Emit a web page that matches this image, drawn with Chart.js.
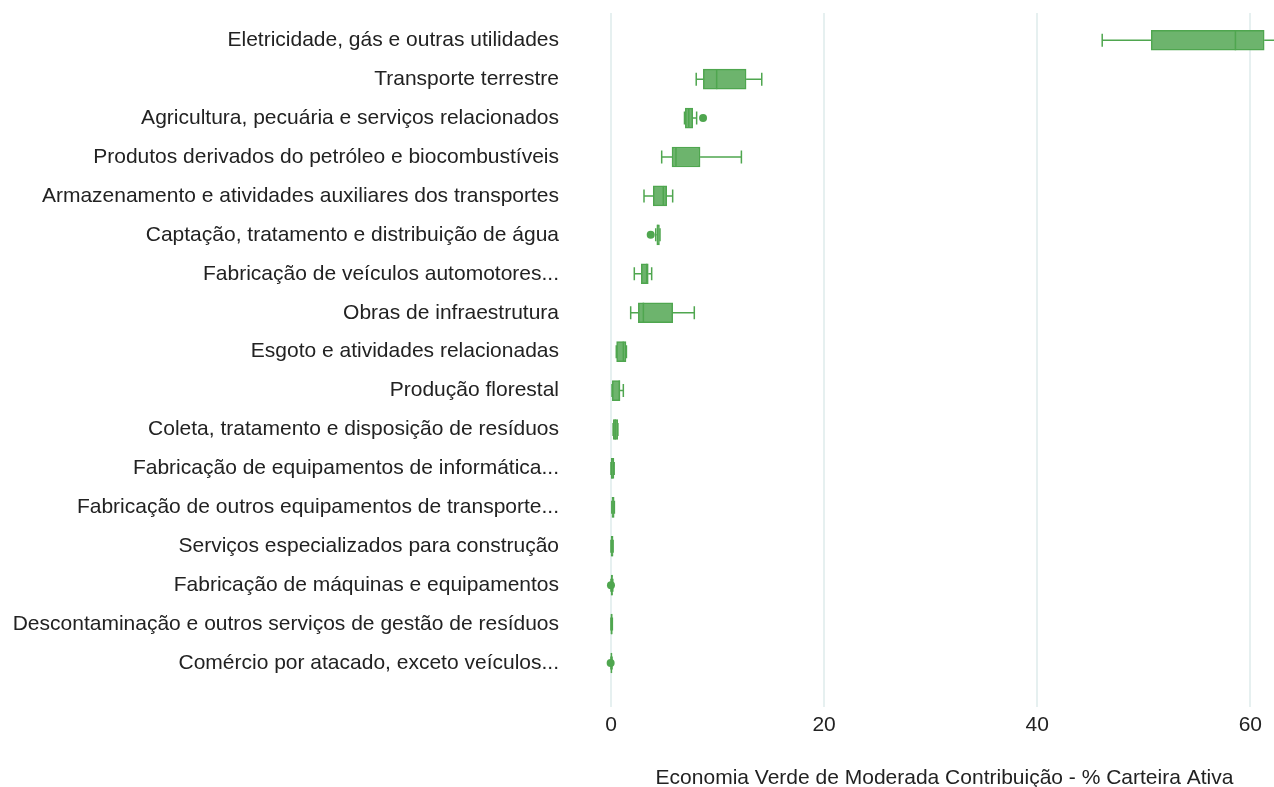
<!DOCTYPE html>
<html>
<head>
<meta charset="utf-8">
<script src="https://cdn.jsdelivr.net/npm/chart.js@4/dist/chart.umd.min.js"></script>
<style>
    html, body { margin: 0; padding: 0; background: #fff; overflow: hidden; }
    #wrap { width: 1274px; height: 787px; overflow: hidden; }
</style>
</head>
<body>
<div id="wrap"><canvas id="boxChart" width="1310" height="787"></canvas></div>
<script>
const categories = [
    'Eletricidade, gás e outras utilidades',
    'Transporte terrestre',
    'Agricultura, pecuária e serviços relacionados',
    'Produtos derivados do petróleo e biocombustíveis',
    'Armazenamento e atividades auxiliares dos transportes',
    'Captação, tratamento e distribuição de água',
    'Fabricação de veículos automotores...',
    'Obras de infraestrutura',
    'Esgoto e atividades relacionadas',
    'Produção florestal',
    'Coleta, tratamento e disposição de resíduos',
    'Fabricação de equipamentos de informática...',
    'Fabricação de outros equipamentos de transporte...',
    'Serviços especializados para construção',
    'Fabricação de máquinas e equipamentos',
    'Descontaminação e outros serviços de gestão de resíduos',
    'Comércio por atacado, exceto veículos...',
];

// box statistics per sector (% carteira ativa)
const whiskerLow  = [46.1, 8.0, 6.9, 4.76, 3.1, 4.2, 2.19, 1.85, 0.5, 0.1, 0.2, 0.0, 0.08, 0.0, 0.0, 0.0, 0.0];
const quartile1   = [50.7, 8.67, 6.98, 5.73, 3.97, 4.3, 2.85, 2.57, 0.53, 0.13, 0.22, 0.02, 0.09, 0.01, 0.02, 0.01, 0.02];
const medians     = [58.6, 9.92, 7.3, 6.1, 4.91, 4.4, 3.35, 3.04, 1.16, 0.78, 0.4, 0.1, 0.2, 0.1, 0.07, 0.05, 0.04];
const quartile3   = [61.3, 12.68, 7.67, 8.36, 5.23, 4.55, 3.5, 5.79, 1.41, 0.85, 0.63, 0.28, 0.3, 0.2, 0.15, 0.12, 0.08];
const whiskerHigh = [63.0, 14.15, 8.04, 12.24, 5.79, 4.6, 3.82, 7.82, 1.45, 1.16, 0.65, 0.3, 0.32, 0.2, 0.17, 0.13, 0.1];
const outliers    = [[], [], [8.64], [], [], [3.73], [], [], [], [], [], [], [], [], [0.0], [], [-0.03]];

const xTicks = [0, 20, 40, 60];

const LINE_GREEN = '#4fa64f';
const FILL_GREEN = '#6db46d';
const TEXT_COLOR = '#222222';
const FONT = '"Liberation Sans", Arial, Helvetica, sans-serif';

// whiskers, medians and outlier points on top of the floating bars
const boxPlotPlugin = {
    id: 'boxPlot',
    afterDatasetsDraw(chart) {
        const ctx = chart.ctx;
        const xs = chart.scales.x;
        const ys = chart.scales.y;
        const meta = chart.getDatasetMeta(0);
        const area = chart.chartArea;
        ctx.save();
        ctx.beginPath();
        ctx.rect(area.left, area.top, area.right - area.left, area.bottom - area.top);
        ctx.clip();
        ctx.strokeStyle = LINE_GREEN;
        ctx.fillStyle = LINE_GREEN;
        ctx.lineWidth = 1.5;
        categories.forEach((cat, i) => {
            const y = ys.getPixelForValue(i);
            const half = meta.data[i].height / 2;
            const cap = 6.5;
            const pLow = xs.getPixelForValue(whiskerLow[i]);
            const pQ1 = xs.getPixelForValue(quartile1[i]);
            const pMed = xs.getPixelForValue(medians[i]);
            const pQ3 = xs.getPixelForValue(quartile3[i]);
            const pHigh = xs.getPixelForValue(whiskerHigh[i]);

            ctx.beginPath();
            ctx.moveTo(pLow, y);
            ctx.lineTo(pQ1, y);
            ctx.moveTo(pQ3, y);
            ctx.lineTo(pHigh, y);
            ctx.moveTo(pLow, y - cap);
            ctx.lineTo(pLow, y + cap);
            ctx.moveTo(pHigh, y - cap);
            ctx.lineTo(pHigh, y + cap);
            ctx.stroke();

            ctx.beginPath();
            ctx.moveTo(pMed, y - half);
            ctx.lineTo(pMed, y + half);
            ctx.stroke();

            outliers[i].forEach((v) => {
                ctx.beginPath();
                ctx.arc(xs.getPixelForValue(v), y, 4, 0, Math.PI * 2);
                ctx.fill();
            });
        });
        ctx.restore();
    },
};

new Chart(document.getElementById('boxChart'), {
    type: 'bar',
    data: {
        datasets: [{
            data: categories.map((cat, i) => ({ x: [quartile1[i], quartile3[i]], y: i })),
            backgroundColor: FILL_GREEN,
            borderColor: LINE_GREEN,
            borderWidth: 1.5,
            borderSkipped: false,
            barThickness: 20,
        }],
    },
    options: {
        indexAxis: 'y',
        responsive: false,
        animation: false,
        layout: {
            padding: { top: 13, left: 0, right: 0, bottom: 0 },
        },
        plugins: {
            legend: { display: false },
            tooltip: { enabled: false },
        },
        scales: {
            x: {
                type: 'linear',
                min: -3,
                max: 65.6,
                afterBuildTicks(scale) {
                    scale.ticks = xTicks.map((v) => ({ value: v }));
                },
                afterFit(scale) {
                    scale.height = 80;
                },
                grid: {
                    color: '#e6f0f0',
                    lineWidth: 2,
                    drawTicks: false,
                    tickLength: 0,
                },
                border: { display: false },
                ticks: {
                    padding: 6,
                    color: TEXT_COLOR,
                    font: { family: FONT, size: 21 },
                },
                title: {
                    display: true,
                    text: 'Economia Verde de Moderada Contribuição - % Carteira Ativa',
                    color: TEXT_COLOR,
                    font: { family: FONT, size: 21 },
                    padding: { top: 0, bottom: -4 },
                },
            },
            y: {
                type: 'linear',
                reverse: true,
                offset: false,
                min: -0.7,
                max: 17.13,
                afterBuildTicks(scale) {
                    scale.ticks = categories.map((cat, i) => ({ value: i }));
                },
                afterFit(scale) {
                    scale.width = 579;
                    scale.paddingTop = 0;
                    scale.paddingBottom = 0;
                },
                grid: { display: false, drawTicks: false, tickLength: 0 },
                border: { display: false },
                ticks: {
                    autoSkip: false,
                    padding: 20,
                    color: TEXT_COLOR,
                    font: { family: FONT, size: 21 },
                    callback: (value) => categories[value],
                },
            },
        },
    },
    plugins: [boxPlotPlugin],
});
</script>
</body>
</html>
